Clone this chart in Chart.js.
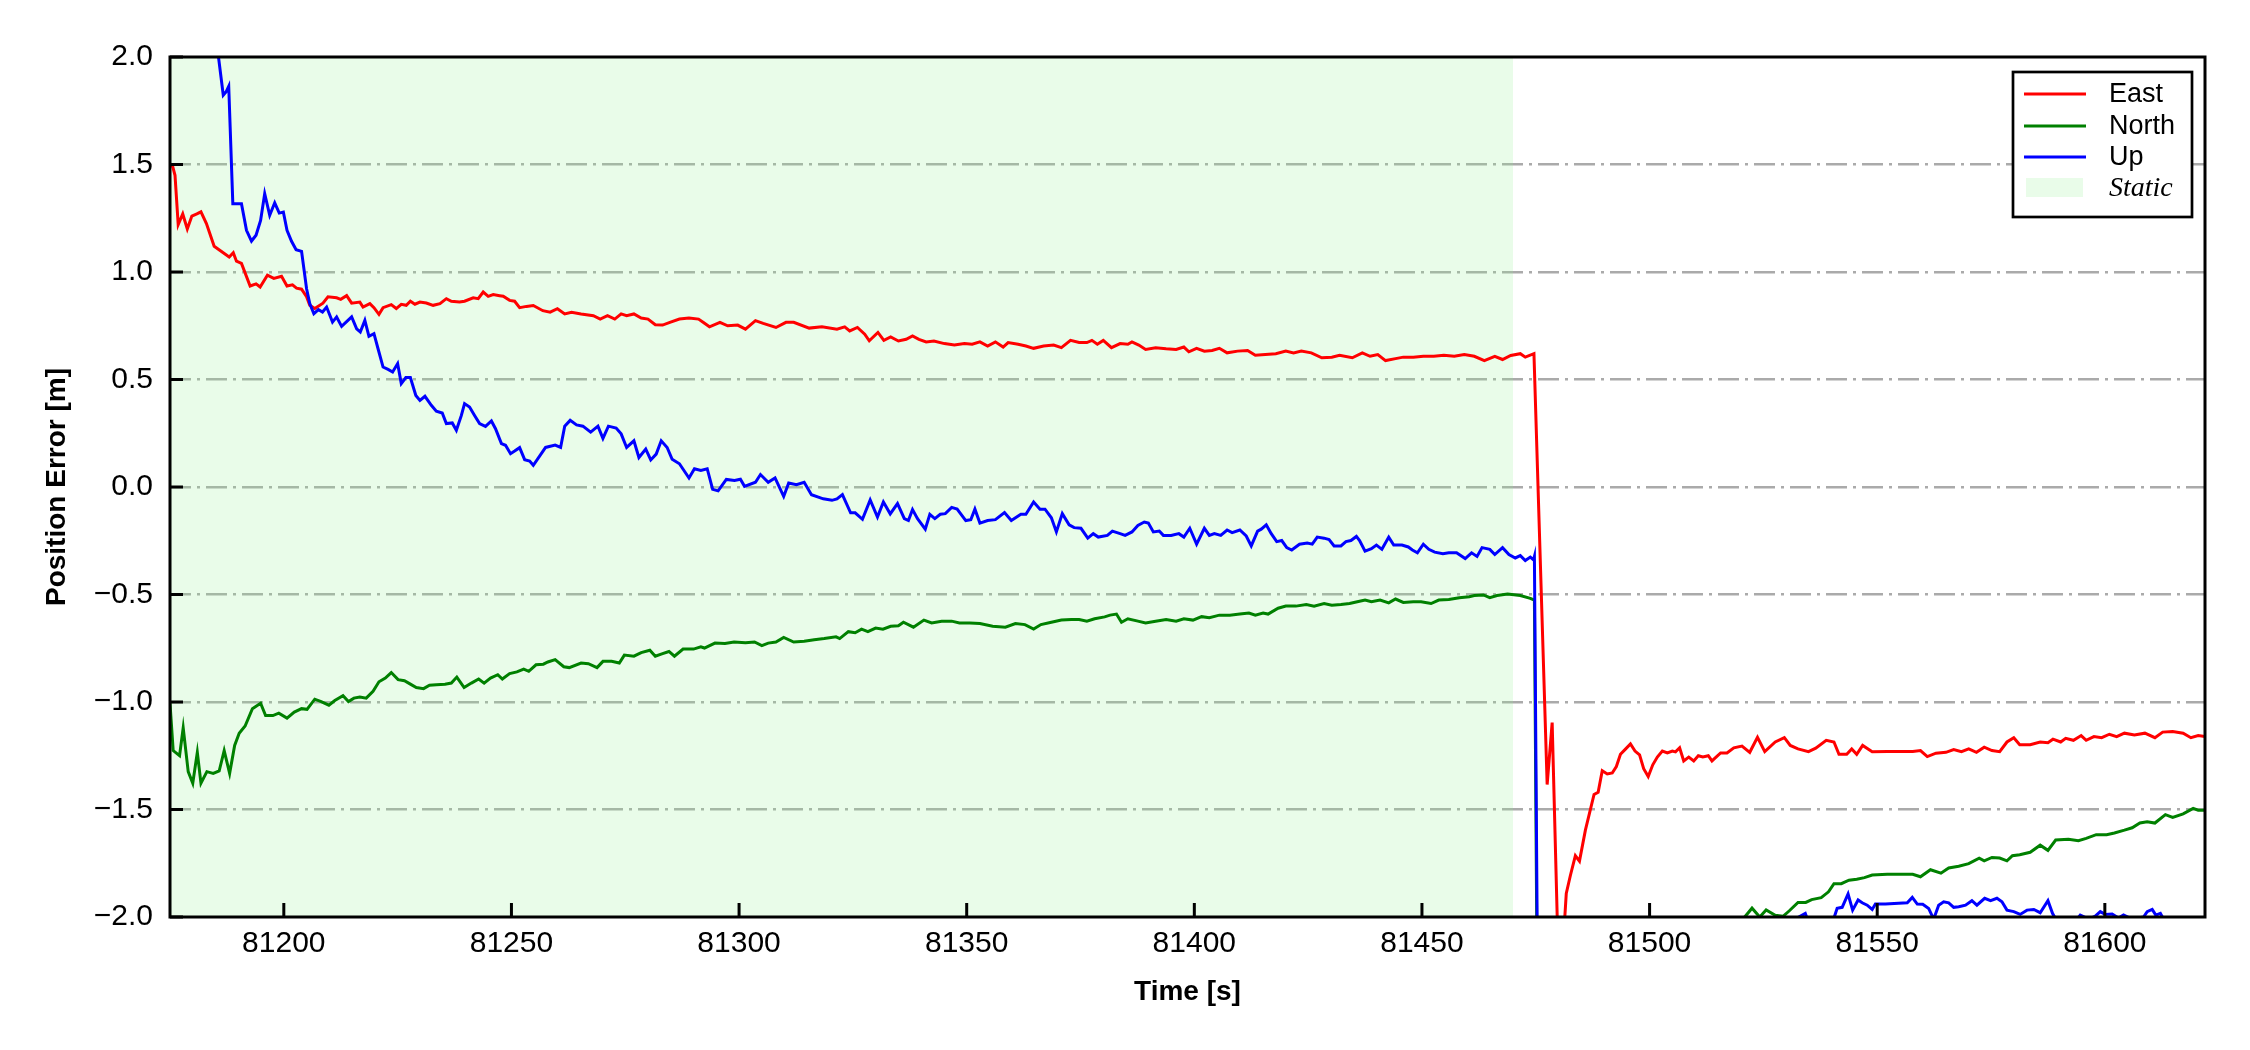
<!DOCTYPE html>
<html>
<head>
<meta charset="utf-8">
<script src="https://cdn.jsdelivr.net/npm/chart.js@4.4.1/dist/chart.umd.min.js"></script>
<style>
  html, body { margin: 0; padding: 0; background: #fff; }
  #wrap { width: 2250px; height: 1050px; }
</style>
</head>
<body>
<div id="wrap"><canvas id="errorChart" width="2250" height="1050"></canvas></div>
<script>
// Tick values
const timeTicks = [81200, 81250, 81300, 81350, 81400, 81450, 81500, 81550, 81600];
const errorTicks = [-2.0, -1.5, -1.0, -0.5, 0.0, 0.5, 1.0, 1.5, 2.0];

// Static period (start, end) in seconds
const staticSpan = [81175, 81470];

// East error [time, metres]
const eastError = [
  [81175.0, 1.50], [81175.6, 1.49], [81176.1, 1.45], [81176.8, 1.22], [81177.8, 1.27], [81178.8, 1.20],
  [81179.8, 1.26], [81180.9, 1.27], [81181.8, 1.28], [81183.0, 1.225], [81184.7, 1.12], [81186.0, 1.10],
  [81187.0, 1.085], [81188.0, 1.07], [81188.9, 1.09], [81189.6, 1.05], [81190.7, 1.04], [81192.6, 0.935],
  [81193.9, 0.945], [81194.8, 0.93], [81196.4, 0.985], [81197.8, 0.97], [81199.5, 0.98], [81200.7, 0.935],
  [81201.9, 0.94], [81202.8, 0.925], [81203.9, 0.92], [81205.0, 0.885], [81205.7, 0.845], [81206.8, 0.83],
  [81208.6, 0.855], [81209.7, 0.885], [81211.6, 0.88], [81212.5, 0.873], [81213.8, 0.89], [81214.9, 0.855],
  [81216.7, 0.86], [81217.4, 0.837], [81218.9, 0.853], [81219.8, 0.834], [81220.9, 0.803], [81221.8, 0.834],
  [81223.6, 0.848], [81224.7, 0.83], [81225.8, 0.85], [81226.9, 0.845], [81227.8, 0.864], [81228.8, 0.85],
  [81229.9, 0.86], [81231.3, 0.856], [81232.8, 0.845], [81234.3, 0.853], [81235.7, 0.876], [81236.8, 0.864],
  [81238.6, 0.86], [81239.7, 0.864], [81241.6, 0.88], [81242.7, 0.876], [81243.8, 0.907], [81244.9, 0.887],
  [81246.0, 0.895], [81247.4, 0.89], [81248.2, 0.887], [81249.6, 0.868], [81250.7, 0.864], [81251.8, 0.834],
  [81253.3, 0.84], [81254.8, 0.844], [81256.9, 0.82], [81258.5, 0.813], [81260.1, 0.829], [81261.7, 0.805],
  [81263.2, 0.813], [81265.3, 0.805], [81268.0, 0.797], [81269.5, 0.781], [81271.1, 0.797], [81272.7, 0.781],
  [81274.1, 0.805], [81275.3, 0.797], [81276.9, 0.805], [81278.5, 0.786], [81280.0, 0.781], [81281.6, 0.755],
  [81283.2, 0.753], [81284.8, 0.766], [81286.9, 0.781], [81289.0, 0.786], [81291.1, 0.781], [81292.1, 0.766],
  [81293.5, 0.745], [81295.8, 0.766], [81297.5, 0.75], [81299.7, 0.753], [81301.4, 0.734], [81303.6, 0.774],
  [81305.3, 0.761], [81308.1, 0.742], [81310.3, 0.766], [81312.0, 0.766], [81315.4, 0.739], [81318.2, 0.745],
  [81321.5, 0.734], [81323.2, 0.745], [81324.3, 0.726], [81326.0, 0.742], [81327.6, 0.711], [81328.6, 0.68],
  [81330.5, 0.719], [81331.8, 0.682], [81333.3, 0.698], [81335.0, 0.679], [81336.7, 0.687], [81338.1, 0.703],
  [81339.5, 0.687], [81341.1, 0.675], [81342.8, 0.679], [81345.1, 0.667], [81347.3, 0.66], [81349.5, 0.667],
  [81351.2, 0.664], [81352.9, 0.675], [81354.6, 0.656], [81356.3, 0.675], [81358.0, 0.651], [81359.1, 0.672],
  [81361.3, 0.664], [81363.0, 0.656], [81364.7, 0.645], [81366.9, 0.656], [81369.1, 0.66], [81370.8, 0.648],
  [81372.8, 0.682], [81374.7, 0.672], [81376.4, 0.672], [81377.5, 0.682], [81378.7, 0.664], [81380.0, 0.682],
  [81381.8, 0.648], [81383.7, 0.667], [81385.4, 0.664], [81386.3, 0.675], [81387.8, 0.66], [81389.3, 0.64],
  [81391.5, 0.648], [81393.8, 0.643], [81396.0, 0.64], [81397.7, 0.651], [81398.8, 0.629], [81400.5, 0.645],
  [81402.2, 0.632], [81403.9, 0.635], [81405.5, 0.645], [81407.2, 0.624], [81409.5, 0.632], [81411.7, 0.635],
  [81413.4, 0.613], [81415.6, 0.616], [81417.9, 0.62], [81420.1, 0.632], [81421.8, 0.624], [81423.5, 0.632],
  [81425.7, 0.624], [81428.0, 0.601], [81430.2, 0.604], [81431.9, 0.613], [81434.7, 0.601], [81436.9, 0.624],
  [81438.6, 0.608], [81440.3, 0.616], [81442.0, 0.588], [81444.2, 0.597], [81445.9, 0.604], [81448.1, 0.604],
  [81450.3, 0.608], [81452.6, 0.608], [81454.8, 0.613], [81457.1, 0.608], [81459.3, 0.616], [81461.5, 0.608],
  [81463.7, 0.588], [81466.0, 0.608], [81467.7, 0.593], [81469.5, 0.612], [81471.6, 0.62], [81472.7, 0.604],
  [81474.6, 0.62], [81477.5, -1.384], [81478.6, -1.096], [81480.2, -2.4], [81481.7, -1.89], [81482.6, -1.807],
  [81483.7, -1.715], [81484.6, -1.74], [81485.9, -1.596], [81487.8, -1.43], [81488.7, -1.42], [81489.6, -1.32],
  [81490.7, -1.335], [81491.8, -1.33], [81492.7, -1.30], [81493.6, -1.243], [81494.7, -1.219], [81495.8, -1.195],
  [81496.8, -1.228], [81497.8, -1.246], [81498.7, -1.31], [81499.7, -1.347], [81500.7, -1.292], [81501.7, -1.256],
  [81502.8, -1.228], [81503.9, -1.237], [81505.0, -1.228], [81505.7, -1.232], [81506.6, -1.213], [81507.5, -1.274],
  [81508.6, -1.256], [81509.7, -1.274], [81510.7, -1.25], [81511.7, -1.256], [81512.9, -1.25], [81513.7, -1.274],
  [81515.6, -1.237], [81517.0, -1.237], [81518.5, -1.213], [81520.3, -1.205], [81522.0, -1.234], [81523.7, -1.164],
  [81525.3, -1.231], [81527.6, -1.186], [81529.6, -1.166], [81530.9, -1.202], [81532.6, -1.218], [81534.9, -1.231],
  [81536.5, -1.215], [81538.8, -1.178], [81540.5, -1.186], [81541.6, -1.243], [81543.3, -1.243], [81544.4, -1.218],
  [81545.5, -1.243], [81546.8, -1.202], [81548.9, -1.231], [81552.2, -1.23], [81557.8, -1.23], [81559.5, -1.226],
  [81561.0, -1.254], [81562.9, -1.238], [81565.1, -1.234], [81566.8, -1.221], [81568.5, -1.231], [81570.1, -1.218],
  [81571.8, -1.234], [81573.5, -1.21], [81575.2, -1.226], [81576.9, -1.231], [81578.5, -1.186], [81580.0, -1.166],
  [81581.3, -1.199], [81583.6, -1.199], [81585.8, -1.186], [81587.5, -1.189], [81588.6, -1.173], [81590.3, -1.186],
  [81591.4, -1.169], [81593.1, -1.178], [81594.8, -1.156], [81595.9, -1.178], [81597.6, -1.161], [81599.3, -1.166],
  [81601.0, -1.15], [81602.6, -1.161], [81604.3, -1.145], [81606.5, -1.153], [81608.8, -1.145], [81611.0, -1.166],
  [81612.7, -1.14], [81614.9, -1.137], [81617.2, -1.145], [81618.9, -1.166], [81620.5, -1.156], [81622.0, -1.161]
];

// North error [time, metres]
const northError = [
  [81175.0, -1.006], [81175.7, -1.226], [81177.1, -1.25], [81177.9, -1.12], [81179.0, -1.324], [81180.0, -1.378],
  [81181.0, -1.234], [81181.8, -1.378], [81183.1, -1.324], [81184.5, -1.332], [81185.8, -1.321], [81186.9, -1.226],
  [81188.1, -1.332], [81189.2, -1.202], [81190.2, -1.145], [81191.5, -1.112], [81193.1, -1.031], [81194.9, -1.006],
  [81196.0, -1.063], [81197.6, -1.063], [81198.9, -1.052], [81200.7, -1.075], [81202.3, -1.047], [81203.9, -1.031],
  [81205.1, -1.034], [81206.8, -0.987], [81208.2, -0.998], [81209.9, -1.015], [81211.2, -0.993], [81213.0, -0.971],
  [81214.2, -0.998], [81215.4, -0.982], [81216.7, -0.977], [81218.1, -0.982], [81219.6, -0.95], [81220.9, -0.906],
  [81222.3, -0.889], [81223.6, -0.863], [81225.1, -0.896], [81226.5, -0.901], [81227.8, -0.917], [81229.1, -0.933],
  [81230.7, -0.938], [81232.0, -0.922], [81233.5, -0.92], [81235.4, -0.917], [81236.8, -0.912], [81238.0, -0.884],
  [81239.6, -0.933], [81241.2, -0.912], [81242.8, -0.893], [81244.0, -0.912], [81245.4, -0.889], [81247.0, -0.873],
  [81248.0, -0.893], [81249.6, -0.868], [81251.2, -0.86], [81252.7, -0.847], [81253.8, -0.857], [81255.4, -0.827],
  [81257.0, -0.824], [81258.0, -0.814], [81259.6, -0.803], [81261.5, -0.836], [81262.7, -0.84], [81265.3, -0.819],
  [81266.9, -0.822], [81268.8, -0.84], [81270.1, -0.811], [81272.0, -0.811], [81273.7, -0.819], [81274.8, -0.782],
  [81276.9, -0.787], [81278.5, -0.77], [81280.4, -0.759], [81281.6, -0.787], [81283.2, -0.775], [81284.6, -0.765],
  [81285.8, -0.787], [81287.7, -0.754], [81290.0, -0.754], [81291.6, -0.743], [81292.4, -0.749], [81294.7, -0.726],
  [81296.9, -0.728], [81298.9, -0.721], [81301.4, -0.724], [81303.4, -0.721], [81305.0, -0.738], [81306.4, -0.726],
  [81308.1, -0.721], [81309.8, -0.70], [81312.0, -0.721], [81314.3, -0.717], [81316.5, -0.71], [81318.7, -0.705],
  [81321.3, -0.697], [81322.1, -0.705], [81324.0, -0.673], [81325.5, -0.678], [81326.9, -0.661], [81328.3, -0.673],
  [81330.0, -0.656], [81331.6, -0.661], [81333.3, -0.648], [81335.0, -0.645], [81336.1, -0.629], [81338.3, -0.652],
  [81340.6, -0.619], [81342.3, -0.632], [81344.5, -0.624], [81346.7, -0.624], [81348.4, -0.632], [81350.7, -0.632],
  [81352.9, -0.635], [81355.7, -0.648], [81358.5, -0.652], [81360.7, -0.635], [81362.8, -0.64], [81364.7, -0.661],
  [81366.3, -0.64], [81368.6, -0.629], [81370.8, -0.619], [81373.0, -0.616], [81374.7, -0.616], [81376.4, -0.624],
  [81378.1, -0.613], [81380.3, -0.604], [81381.5, -0.596], [81382.9, -0.591], [81384.0, -0.629], [81385.4, -0.613],
  [81387.6, -0.624], [81389.3, -0.632], [81391.5, -0.624], [81393.8, -0.616], [81396.0, -0.624], [81397.7, -0.613],
  [81399.7, -0.619], [81401.6, -0.603], [81403.3, -0.608], [81405.5, -0.596], [81407.8, -0.596], [81410.0, -0.591],
  [81412.0, -0.586], [81413.4, -0.596], [81415.1, -0.586], [81416.2, -0.591], [81418.4, -0.564], [81420.1, -0.554],
  [81422.3, -0.554], [81424.6, -0.547], [81426.3, -0.554], [81428.5, -0.542], [81430.2, -0.55], [81432.2, -0.547],
  [81434.1, -0.542], [81435.8, -0.534], [81437.5, -0.526], [81438.9, -0.534], [81440.8, -0.526], [81442.7, -0.539],
  [81444.2, -0.521], [81445.9, -0.537], [81448.1, -0.534], [81449.8, -0.534], [81452.0, -0.542], [81453.7, -0.526],
  [81455.9, -0.523], [81458.2, -0.515], [81460.4, -0.51], [81461.5, -0.505], [81463.5, -0.502], [81464.9, -0.515],
  [81466.5, -0.505], [81468.8, -0.498], [81471.6, -0.505], [81473.8, -0.518], [81474.7, -0.526], [81475.4, -2.6],
  [81520.0, -2.1], [81520.9, -2.0], [81522.5, -1.959], [81524.2, -2.0], [81525.6, -1.967], [81527.6, -1.992],
  [81529.3, -1.997], [81530.7, -1.971], [81532.6, -1.932], [81534.3, -1.932], [81535.6, -1.919], [81537.7, -1.91],
  [81539.3, -1.883], [81540.5, -1.845], [81542.1, -1.845], [81543.8, -1.829], [81545.5, -1.824], [81547.2, -1.817],
  [81548.9, -1.805], [81552.2, -1.801], [81557.8, -1.801], [81559.5, -1.813], [81561.7, -1.78], [81564.0, -1.796],
  [81565.7, -1.772], [81567.9, -1.764], [81570.1, -1.752], [81572.4, -1.726], [81573.5, -1.739], [81575.2, -1.723],
  [81576.9, -1.726], [81578.5, -1.739], [81579.7, -1.715], [81581.3, -1.71], [81583.6, -1.699], [81585.8, -1.666],
  [81587.5, -1.69], [81589.2, -1.642], [81592.0, -1.638], [81594.2, -1.645], [81595.9, -1.634], [81598.1, -1.617],
  [81600.4, -1.617], [81602.1, -1.609], [81604.3, -1.596], [81606.0, -1.585], [81607.7, -1.563], [81609.3, -1.557],
  [81611.0, -1.563], [81613.3, -1.524], [81614.9, -1.537], [81617.2, -1.52], [81619.4, -1.495], [81620.5, -1.503],
  [81622.0, -1.503]
];

// Up error [time, metres]
const upError = [
  [81175.0, 4.5], [81179.0, 3.2], [81183.0, 2.45], [81186.7, 1.822], [81187.3, 1.837], [81187.9, 1.864],
  [81188.8, 1.318], [81190.7, 1.318], [81191.8, 1.194], [81192.9, 1.144], [81193.9, 1.171], [81194.9, 1.24],
  [81195.8, 1.364], [81196.9, 1.264], [81198.0, 1.322], [81199.0, 1.274], [81199.9, 1.279], [81200.7, 1.194],
  [81201.7, 1.143], [81202.7, 1.104], [81203.9, 1.096], [81205.0, 0.922], [81205.7, 0.853], [81206.6, 0.806],
  [81207.6, 0.825], [81208.5, 0.814], [81209.4, 0.837], [81210.7, 0.767], [81211.6, 0.791], [81212.7, 0.747],
  [81214.9, 0.791], [81216.0, 0.736], [81216.8, 0.721], [81217.8, 0.775], [81218.7, 0.701], [81219.8, 0.713],
  [81220.7, 0.643], [81221.8, 0.558], [81222.9, 0.547], [81223.9, 0.535], [81225.0, 0.574], [81225.8, 0.481],
  [81226.8, 0.509], [81227.8, 0.509], [81229.0, 0.426], [81229.9, 0.403], [81231.0, 0.422], [81232.4, 0.38],
  [81233.5, 0.353], [81234.8, 0.344], [81235.7, 0.295], [81237.0, 0.298], [81237.9, 0.264], [81239.0, 0.333],
  [81239.7, 0.388], [81240.8, 0.372], [81241.9, 0.333], [81243.0, 0.295], [81244.3, 0.282], [81245.6, 0.307],
  [81246.5, 0.271], [81247.8, 0.202], [81248.7, 0.194], [81249.8, 0.155], [81250.7, 0.167], [81251.8, 0.183],
  [81252.9, 0.127], [81254.0, 0.121], [81254.8, 0.101], [81257.5, 0.184], [81259.6, 0.195], [81260.8, 0.184],
  [81261.7, 0.283], [81262.9, 0.31], [81264.3, 0.289], [81265.7, 0.283], [81267.4, 0.255], [81269.0, 0.283],
  [81270.1, 0.226], [81271.3, 0.283], [81273.0, 0.274], [81274.1, 0.247], [81275.3, 0.184], [81276.9, 0.215],
  [81278.0, 0.137], [81279.5, 0.176], [81280.6, 0.126], [81281.8, 0.153], [81282.9, 0.215], [81284.2, 0.184],
  [81285.3, 0.129], [81286.9, 0.108], [81289.0, 0.042], [81290.2, 0.085], [81291.6, 0.077], [81293.0, 0.085],
  [81294.2, -0.011], [81295.4, -0.018], [81297.2, 0.035], [81299.0, 0.03], [81300.3, 0.036], [81301.2, 0.003],
  [81303.6, 0.022], [81304.7, 0.058], [81306.4, 0.022], [81307.9, 0.042], [81309.8, -0.044], [81310.9, 0.019],
  [81312.6, 0.011], [81314.3, 0.022], [81315.9, -0.036], [81318.5, -0.055], [81320.4, -0.062], [81321.5, -0.055],
  [81322.7, -0.035], [81324.5, -0.12], [81325.5, -0.12], [81327.1, -0.15], [81328.8, -0.06], [81330.4, -0.14],
  [81331.7, -0.07], [81333.2, -0.125], [81334.8, -0.077], [81336.3, -0.147], [81337.2, -0.156], [81338.1, -0.105],
  [81339.2, -0.147], [81340.9, -0.196], [81341.9, -0.127], [81343.0, -0.147], [81344.2, -0.127], [81345.3, -0.124],
  [81346.7, -0.095], [81347.9, -0.103], [81349.8, -0.156], [81350.9, -0.152], [81351.8, -0.103], [81352.9, -0.168],
  [81354.6, -0.156], [81356.3, -0.152], [81358.3, -0.119], [81359.8, -0.156], [81361.9, -0.127], [81363.0, -0.127],
  [81364.7, -0.07], [81366.1, -0.103], [81367.2, -0.103], [81368.6, -0.143], [81369.7, -0.209], [81371.0, -0.124],
  [81372.5, -0.176], [81373.6, -0.189], [81375.1, -0.192], [81376.6, -0.238], [81377.8, -0.217], [81378.9, -0.233],
  [81380.9, -0.225], [81382.0, -0.205], [81383.7, -0.217], [81384.8, -0.225], [81386.3, -0.209], [81387.6, -0.179],
  [81389.0, -0.163], [81389.9, -0.168], [81391.0, -0.209], [81392.3, -0.205], [81393.2, -0.225], [81394.9, -0.225],
  [81396.6, -0.217], [81397.7, -0.233], [81399.0, -0.192], [81400.5, -0.266], [81402.2, -0.192], [81403.3, -0.225],
  [81404.4, -0.217], [81405.8, -0.225], [81407.2, -0.20], [81408.3, -0.212], [81410.0, -0.20], [81411.4, -0.228],
  [81412.5, -0.274], [81413.9, -0.205], [81414.7, -0.196], [81415.8, -0.176], [81416.9, -0.217], [81418.1, -0.254],
  [81419.2, -0.249], [81420.3, -0.282], [81421.4, -0.293], [81423.1, -0.266], [81424.8, -0.261], [81425.9, -0.266],
  [81427.0, -0.233], [81428.5, -0.238], [81429.6, -0.244], [81430.7, -0.274], [81432.2, -0.274], [81433.3, -0.254],
  [81434.4, -0.249], [81435.6, -0.23], [81436.3, -0.249], [81437.5, -0.298], [81438.9, -0.287], [81440.0, -0.27],
  [81441.2, -0.29], [81442.7, -0.233], [81443.8, -0.27], [81445.6, -0.27], [81447.0, -0.279], [81447.9, -0.293],
  [81449.0, -0.306], [81450.3, -0.266], [81451.5, -0.29], [81452.8, -0.303], [81454.6, -0.31], [81455.9, -0.306],
  [81457.6, -0.306], [81459.5, -0.333], [81460.9, -0.306], [81462.1, -0.323], [81463.2, -0.282], [81464.9, -0.29],
  [81466.0, -0.314], [81467.7, -0.282], [81469.1, -0.314], [81470.5, -0.33], [81471.6, -0.319], [81472.7, -0.342],
  [81473.8, -0.326], [81474.5, -0.339], [81474.7, -0.323], [81475.4, -2.3], [81476.0, -9.0], [81532.0, -2.1],
  [81532.8, -2.0], [81534.2, -1.983], [81535.0, -2.03], [81540.1, -2.03], [81541.2, -1.96], [81542.3, -1.955],
  [81543.6, -1.893], [81544.6, -1.968], [81545.8, -1.921], [81546.7, -1.934], [81547.8, -1.945], [81548.9, -1.965],
  [81549.6, -1.94], [81551.8, -1.94], [81556.6, -1.934], [81557.7, -1.909], [81558.8, -1.94], [81560.0, -1.941],
  [81561.3, -1.96], [81562.4, -2.01], [81563.5, -1.945], [81564.6, -1.929], [81565.7, -1.934], [81566.8, -1.955],
  [81567.9, -1.952], [81569.4, -1.945], [81570.8, -1.924], [81571.9, -1.945], [81573.6, -1.913], [81574.9, -1.924],
  [81576.3, -1.913], [81577.4, -1.929], [81578.5, -1.968], [81580.0, -1.975], [81581.4, -1.988], [81582.9, -1.968],
  [81584.4, -1.965], [81585.8, -1.98], [81587.5, -1.924], [81588.5, -1.983], [81589.5, -2.02], [81593.5, -2.02],
  [81594.6, -1.991], [81596.5, -2.01], [81597.9, -1.996], [81599.0, -1.975], [81600.1, -1.988], [81601.6, -1.986],
  [81603.0, -2.005], [81604.1, -1.991], [81606.0, -2.01], [81608.5, -2.0], [81609.3, -1.975], [81610.4, -1.965],
  [81611.2, -1.991], [81612.2, -1.983], [81612.9, -2.01], [81622.0, -2.05]
];

const SANS = '"Liberation Sans", Arial, Helvetica, sans-serif';
const SERIF = '"Liberation Serif", "Times New Roman", serif';

function toPoints(pairs) {
    return pairs.map(p => ({ x: p[0], y: p[1] }));
}

// Inward tick marks and the full box around the plot
const frameAndTicks = {
    id: 'frameAndTicks',
    afterDatasetsDraw(chart) {
        const { ctx, chartArea: a, scales: { x, y } } = chart;
        ctx.save();
        ctx.strokeStyle = '#000';
        ctx.lineWidth = 3;
        ctx.beginPath();
        x.ticks.forEach(t => {
            const px = x.getPixelForValue(t.value);
            ctx.moveTo(px, a.bottom);
            ctx.lineTo(px, a.bottom - 14);
        });
        y.ticks.forEach(t => {
            const py = y.getPixelForValue(t.value);
            ctx.moveTo(a.left, py);
            ctx.lineTo(a.left + 13, py);
        });
        ctx.stroke();
        ctx.strokeRect(a.left, a.top, a.right - a.left, a.bottom - a.top);
        ctx.restore();
    }
};

// Boxed legend in the upper right corner
const boxLegend = {
    id: 'boxLegend',
    afterDraw(chart) {
        const { ctx, chartArea: a } = chart;
        const boxRight = a.right - 13, boxTop = a.top + 15;
        const boxW = 179, boxH = 145;
        const left = boxRight - boxW;
        ctx.save();
        ctx.fillStyle = '#fff';
        ctx.fillRect(left, boxTop, boxW, boxH);
        ctx.strokeStyle = '#000';
        ctx.lineWidth = 2.7;
        ctx.strokeRect(left, boxTop, boxW, boxH);

        const rowY = [22, 54, 85, 116];
        const order = ['East', 'North', 'Up', 'Static'];
        order.forEach((name, i) => {
            const ds = chart.data.datasets.find(d => d.label === name);
            const cy = boxTop + rowY[i];
            if (ds.isSpan) {
                ctx.fillStyle = ds.backgroundColor;
                ctx.fillRect(left + 13, cy - 10, 57, 19);
                ctx.font = 'italic 28px ' + SERIF;
            } else {
                ctx.strokeStyle = ds.borderColor;
                ctx.lineWidth = 3;
                ctx.beginPath();
                ctx.moveTo(left + 11, cy);
                ctx.lineTo(left + 73, cy);
                ctx.stroke();
                ctx.font = '27px ' + SANS;
            }
            ctx.fillStyle = '#000';
            ctx.textBaseline = 'middle';
            ctx.textAlign = 'left';
            ctx.fillText(name, left + 96, cy + 1);
        });
        ctx.restore();
    }
};

const ctx = document.getElementById('errorChart').getContext('2d');

new Chart(ctx, {
    type: 'line',
    data: {
        datasets: [
            {
                label: 'East',
                data: toPoints(eastError),
                borderColor: '#ff0000',
                borderWidth: 3,
                pointRadius: 0,
                tension: 0,
                fill: false,
                clip: 0,
                order: 3
            },
            {
                label: 'North',
                data: toPoints(northError),
                borderColor: '#008000',
                borderWidth: 3,
                pointRadius: 0,
                tension: 0,
                fill: false,
                clip: 0,
                order: 2
            },
            {
                label: 'Up',
                data: toPoints(upError),
                borderColor: '#0000ff',
                borderWidth: 3,
                pointRadius: 0,
                tension: 0,
                fill: false,
                clip: 0,
                order: 1
            },
            {
                label: 'Static',
                isSpan: true,
                data: [{ x: staticSpan[0], y: 2 }, { x: staticSpan[1], y: 2 }],
                borderWidth: 0,
                borderColor: 'rgba(0,0,0,0)',
                backgroundColor: 'rgba(144,238,144,0.2)',
                pointRadius: 0,
                fill: 'start',
                clip: 0,
                order: 10
            }
        ]
    },
    options: {
        responsive: false,
        animation: false,
        devicePixelRatio: 1,
        layout: { padding: { left: 0, top: 57, right: 45, bottom: 0 } },
        plugins: {
            legend: { display: false },
            tooltip: { enabled: false }
        },
        scales: {
            x: {
                type: 'linear',
                min: 81175,
                max: 81622,
                afterBuildTicks: axis => { axis.ticks = timeTicks.map(v => ({ value: v })); },
                afterFit: axis => { axis.height = 133; },
                grid: { display: false, drawTicks: false },
                border: { display: false },
                ticks: {
                    color: '#000',
                    padding: 9,
                    maxRotation: 0,
                    font: { family: SANS, size: 30 },
                    callback: v => String(v)
                },
                title: {
                    display: true,
                    text: 'Time [s]',
                    color: '#000',
                    font: { family: SANS, size: 28, weight: 'bold' },
                    padding: { top: 0, bottom: 41 }
                }
            },
            y: {
                type: 'linear',
                min: -2,
                max: 2,
                afterBuildTicks: axis => { axis.ticks = errorTicks.map(v => ({ value: v })); },
                afterFit: axis => { axis.width = 170; },
                grid: {
                    drawTicks: false,
                    lineWidth: 2.5,
                    color: c => (c.tick && Math.abs(c.tick.value) === 2) ? 'rgba(0,0,0,0)' : '#aaaaaa'
                },
                border: { display: false, dash: [21, 6, 3, 6] },
                ticks: {
                    color: '#000',
                    padding: 17,
                    font: { family: SANS, size: 30 },
                    callback: v => Number(v).toFixed(1).replace('-', '\u2212')
                },
                title: {
                    display: true,
                    text: 'Position Error [m]',
                    color: '#000',
                    font: { family: SANS, size: 28, weight: 'bold' },
                    padding: { top: 40, bottom: 0 }
                }
            }
        }
    },
    plugins: [frameAndTicks, boxLegend]
});
</script>
</body>
</html>
